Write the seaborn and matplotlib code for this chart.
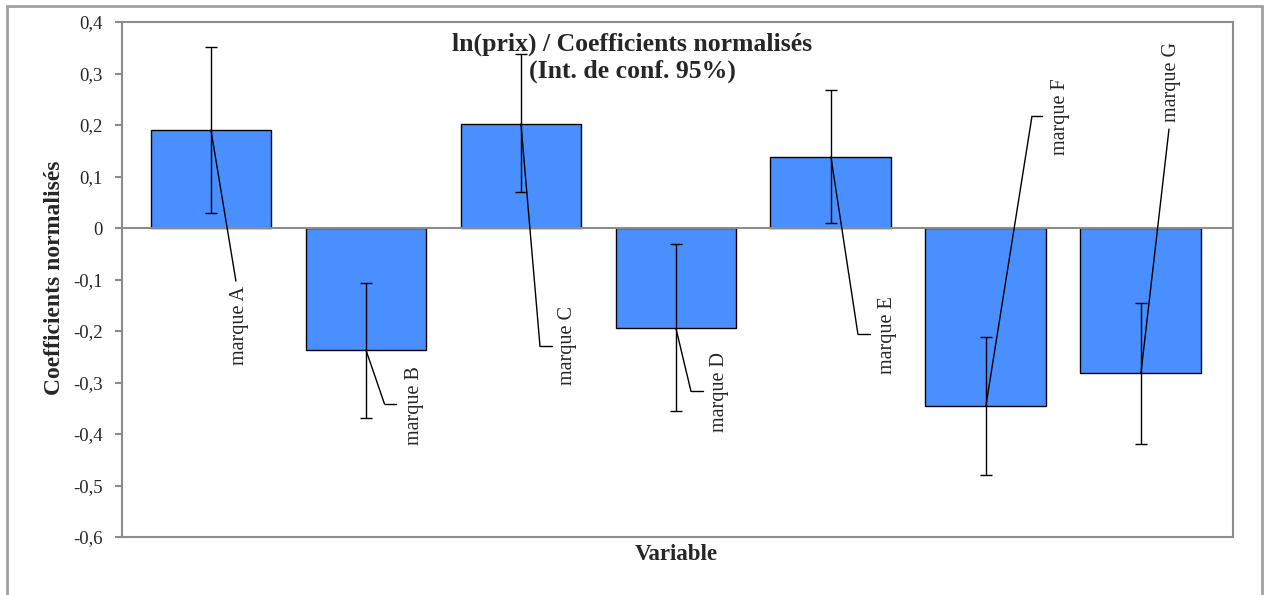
import matplotlib
matplotlib.use("Agg")
import numpy as np
import matplotlib.pyplot as plt
import seaborn as sns
from matplotlib.patches import Rectangle
from matplotlib.ticker import FuncFormatter

# values
brands = ["marque A", "marque B", "marque C", "marque D", "marque E", "marque F", "marque G"]
coefs = [0.190, -0.237, 0.202, -0.195, 0.138, -0.345, -0.282]
ci_low = [0.030, -0.368, 0.070, -0.355, 0.010, -0.479, -0.419]
ci_high = [0.351, -0.107, 0.338, -0.031, 0.268, -0.211, -0.146]

# label layout (offset from bar centre, in category units / data units)
lead_dx = [0.161, 0.120, 0.123, 0.097, 0.174, 0.297, 0.181]
lead_y = [-0.103, -0.342, -0.230, -0.317, -0.206, 0.217, 0.192]
hook_dx = [None, 0.194, 0.200, 0.174, 0.252, 0.361, None]
text_dx = [0.181, 0.313, 0.303, 0.284, 0.368, 0.484, 0.194]
text_y = [-0.113, -0.344, -0.229, -0.318, -0.208, 0.217, 0.206]
text_va = ["top", "center", "center", "center", "center", "center", "bottom"]

sns.set_style("white")
plt.rcParams["font.family"] = ["Liberation Serif", "DejaVu Serif"]

W, H = 1264, 595
fig = plt.figure(figsize=(W / 100, H / 100), dpi=100)
ax = fig.add_axes([122 / W, 1 - 537 / H, (1233 - 122) / W, (537 - 22) / H])

sns.barplot(x=brands, y=coefs, color="#4a8fff", saturation=1, edgecolor="black",
            linewidth=1, width=0.78, errorbar=None, ax=ax, zorder=2)

xs = np.arange(len(brands))
c = np.array(coefs)
ax.errorbar(xs, c, yerr=[c - np.array(ci_low), np.array(ci_high) - c], fmt="none",
            ecolor="black", elinewidth=1, capsize=4, capthick=1, zorder=4)

ax.axhline(0, color="#8c8c8c", lw=1.5, zorder=3)

# data labels with leader lines
for i, name in enumerate(brands):
    x0, y0 = xs[i], coefs[i]
    x1, y1 = xs[i] + lead_dx[i], lead_y[i]
    ax.plot([x0, x1], [y0, y1], color="black", lw=1, zorder=5)
    if hook_dx[i] is not None:
        ax.plot([x1, xs[i] + hook_dx[i]], [y1, y1], color="black", lw=1, zorder=5)
    ax.text(xs[i] + text_dx[i], text_y[i], name, rotation=90, ha="center",
            va=text_va[i], fontsize=14.5, zorder=6)

ax.set_ylim(-0.6, 0.4)
ax.set_yticks(np.arange(-0.6, 0.41, 0.1))
ax.yaxis.set_major_formatter(FuncFormatter(
    lambda v, p: "0" if abs(v) < 1e-9 else f"{v:.1f}".replace(".", ",")))
ax.set_xlim(-0.574, 6.594)
ax.set_xticks([])
ax.set_xlabel("")
ax.set_ylabel("")
for s in ax.spines.values():
    s.set_color("#8c8c8c")
    s.set_linewidth(1.5)
ax.tick_params(axis="y", direction="out", length=5, width=1.5, color="#8c8c8c",
               labelsize=13.5, pad=9, left=True)

fig.text(0.5, 1 - 33 / H, "ln(prix) / Coefficients normalisés\n(Int. de conf. 95%)",
         ha="center", va="top", fontsize=18.5, fontweight="bold", linespacing=1.2)
fig.text(55 / W, 1 - 278 / H, "Coefficients normalisés", rotation=90, ha="center",
         va="center", fontsize=17, fontweight="bold")
fig.text(676 / W, 1 - 555 / H, "Variable", ha="center", va="center",
         fontsize=16.5, fontweight="bold")

fig.patches.append(Rectangle((7 / W, -0.02), (1262 - 7) / W, 1.02 - 6 / H,
                             transform=fig.transFigure, fill=False,
                             edgecolor="#a0a0a0", lw=2))

fig.savefig("out.png", dpi=100)
